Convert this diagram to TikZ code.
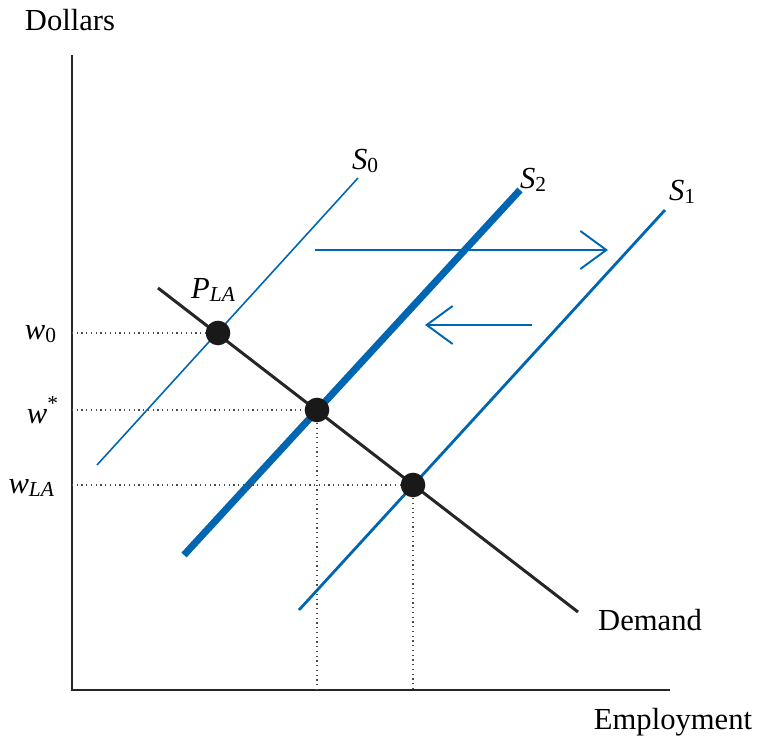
\documentclass[tikz,border=0pt]{standalone}
\usepackage{fontspec}
\setmainfont{Liberation Serif}
\usetikzlibrary{arrows.meta}
\definecolor{supblue}{RGB}{0,102,178}
\tikzset{
  axis/.style={line width=0.5pt,black!85},
  demand/.style={line width=0.85pt,black!85},
  supthin/.style={line width=0.45pt,supblue},
  supmid/.style={line width=0.8pt,supblue},
  supthick/.style={line width=2pt,supblue},
  shiftarrow/.style={line width=0.55pt,supblue,-{Straight Barb[length=2.6mm,width=3.8mm]}},
  guide/.style={densely dotted,line width=0.35pt,black!70},
  eq/.style={circle,fill=black!90,inner sep=0pt,minimum size=7pt},
  lbl/.style={font=\fontsize{8.7}{10}\selectfont,inner sep=1pt}
}
\begin{document}
\begin{tikzpicture}[x=0.01cm,y=-0.01cm]
  \useasboundingbox (0,0) rectangle (757,740);
  % axes
  \coordinate (o) at (72,690);
  \coordinate (ytop) at (72,55);
  \coordinate (xend) at (670,690);
  \draw[axis] (ytop) -- (o) -- (xend);
  \node[lbl] (dollars) at (70,20) {Dollars};
  \node[lbl] (employment) at (673,722) {Employment};
  % demand
  \coordinate (d0) at (158,288);
  \coordinate (d1) at (578,612);
  \draw[demand] (d0) -- (d1);
  \node[lbl,anchor=west] (dem) at (594,620) {Demand};
  % supply curves
  \coordinate (s0a) at (97,465);
  \coordinate (s0b) at (358,178);
  \coordinate (s2a) at (184,555);
  \coordinate (s2b) at (520,190);
  \coordinate (s1a) at (299,610);
  \coordinate (s1b) at (665,210);
  \draw[supthin] (s0a) -- (s0b);
  \draw[supthick] (s2a) -- (s2b);
  \draw[supmid] (s1a) -- (s1b);
  \node[lbl] (s0lbl) at (366,161) {\textit{S}\textsubscript{0}};
  \node[lbl] (s2lbl) at (534,180) {\textit{S}\textsubscript{2}};
  \node[lbl] (s1lbl) at (683,192) {\textit{S}\textsubscript{1}};
  \node[lbl] (plalbl) at (214,290) {\textit{P}\textsubscript{\textit{LA}}};
  % equilibrium points
  \node[eq] (pla) at (218,333) {};
  \node[eq] (pstar) at (317,410) {};
  \node[eq] (p1) at (413,485) {};
  % guides
  \coordinate (y0) at (72,333);
  \coordinate (ystar) at (72,410);
  \coordinate (yla) at (72,485);
  \coordinate (xstar) at (317,690);
  \coordinate (xla) at (413,690);
  \draw[guide] (y0) -- (pla);
  \draw[guide] (ystar) -- (pstar) -- (xstar);
  \draw[guide] (yla) -- (p1) -- (xla);
  % shifts
  \coordinate (r0) at (315,250);
  \coordinate (r1) at (608,250);
  \coordinate (l0) at (532,325);
  \coordinate (l1) at (425,325);
  \draw[shiftarrow] (r0) -- (r1);
  \draw[shiftarrow] (l0) -- (l1);
  % wage labels
  \node[lbl,anchor=east] (w0) at (62,334) {\textit{w}\textsubscript{0}};
  \node[lbl,anchor=east] (wstar) at (64,410) {\textit{w}\textsuperscript{*}};
  \node[lbl,anchor=east] (wla) at (60,488) {\textit{w}\textsubscript{\textit{LA}}};
\end{tikzpicture}
\end{document}
